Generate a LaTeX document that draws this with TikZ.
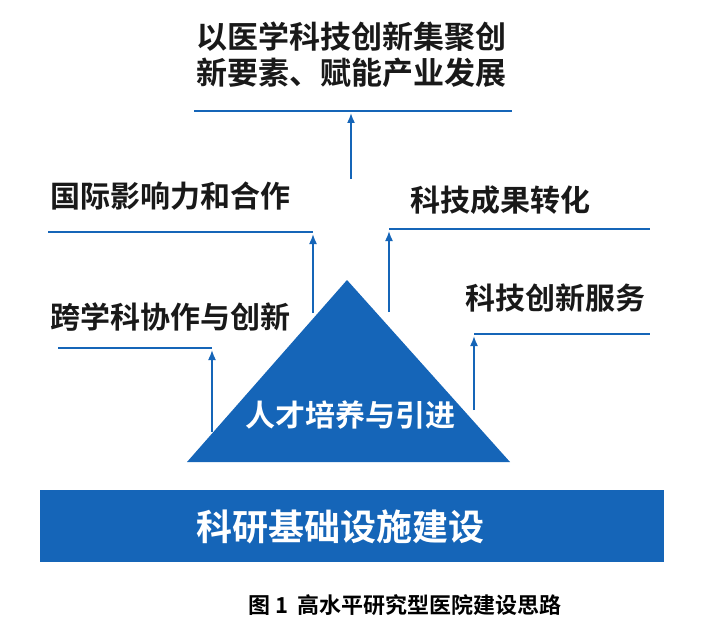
\documentclass[tikz,border=0pt]{standalone}
\usepackage{fontspec}
\usetikzlibrary{arrows.meta}
\setmainfont{Noto Sans CJK SC}[BoldFont={Noto Sans CJK SC Bold}]
\newfontfamily\capfont{Noto Sans CJK SC}[BoldFont={Noto Sans CJK SC Bold}]
\definecolor{mblue}{HTML}{1565B8}
\begin{document}
\begin{tikzpicture}[x=1pt,y=-1pt,
  lbl/.style={font=\fontsize{30}{34}\selectfont\bfseries, text=black!90, inner sep=0, anchor=west},
  conn/.style={draw=mblue, line width=1.6pt},
  arr/.style={conn, -{Latex[length=10pt,width=8pt]}, shorten >=2pt}]
\useasboundingbox (0,0) rectangle (706,631);
\fill[mblue] (40,490) rectangle (664,562);
\node[font=\fontsize{36}{40}\selectfont\bfseries, text=white] (base) at (340,527) {科研基础设施建设};
\fill[mblue] (347,280) -- (510,462) -- (187,462) -- cycle;
\node[font=\fontsize{30}{34}\selectfont\bfseries, text=white] (tri) at (350,415) {人才培养与引进};
\node[lbl, align=left, anchor=north west, font=\fontsize{31}{36}\selectfont\bfseries] (goal) at (196,22) {以医学科技创新集聚创\\新要素、赋能产业发展};
\node[lbl] (l1) at (50,196) {国际影响力和合作};
\node[lbl] (l2) at (50,317) {跨学科协作与创新};
\node[lbl] (r1) at (410,200) {科技成果转化};
\node[lbl] (r2) at (465,298) {科技创新服务};
\coordinate (g1) at (194,111); \coordinate (g2) at (512,111);
\coordinate (a1) at (48,232); \coordinate (a2) at (313,232);
\coordinate (b1) at (58,348); \coordinate (b2) at (212,348);
\coordinate (c1) at (389,229); \coordinate (c2) at (650,229);
\coordinate (d1) at (474,334); \coordinate (d2) at (650,334);
\coordinate (gm) at (351,111);
\draw[conn] (g1) -- (g2);
\draw[conn] (a1) -- (a2);
\draw[conn] (b1) -- (b2);
\draw[conn] (c1) -- (c2);
\draw[conn] (d1) -- (d2);
\coordinate (s0) at (351,179);
\coordinate (s1) at (313,313);
\coordinate (s2) at (212,432);
\coordinate (s3) at (389,312);
\coordinate (s4) at (474,410);
\draw[arr] (s0) -- (gm);
\draw[arr] (s1) -- (a2);
\draw[arr] (s2) -- (b2);
\draw[arr] (s3) -- (c1);
\draw[arr] (s4) -- (d1);
\node[font=\capfont\fontsize{22}{26}\selectfont\bfseries] (cap) at (405,605) {图 1\ \ 高水平研究型医院建设思路};
\end{tikzpicture}
\end{document}
